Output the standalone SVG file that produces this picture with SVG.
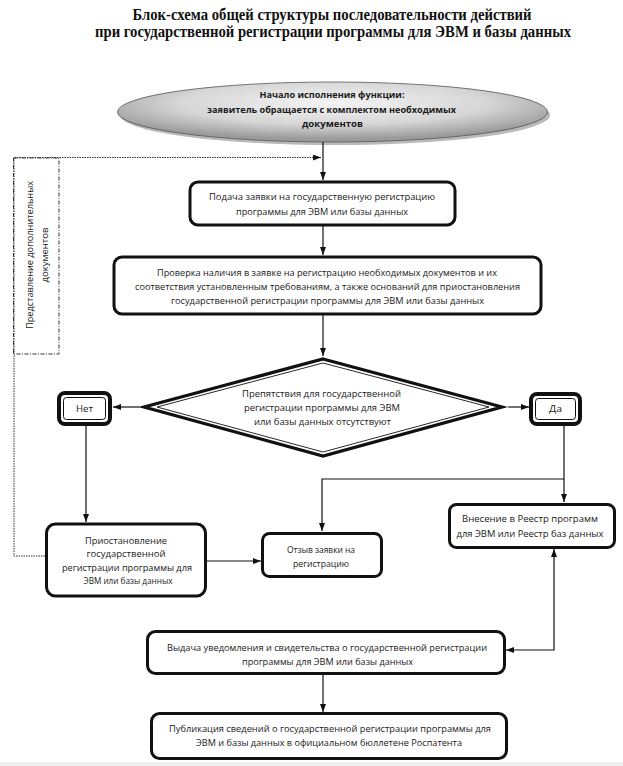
<svg xmlns="http://www.w3.org/2000/svg" width="623" height="766" viewBox="0 0 623 766">
<style>
.t{font-family:"Open Sans","Noto Sans","DejaVu Sans",sans-serif;font-size:9.5px;fill:#1a1a1a;text-anchor:middle}
.b{font-weight:bold}
.title{font-family:"Liberation Serif","Times New Roman",serif;font-size:16px;font-weight:bold;fill:#111;text-anchor:middle}
.box{fill:#fff;stroke:#111;stroke-width:3}
.thin{fill:none;stroke:#111;stroke-width:1}
.ln{fill:none;stroke:#111;stroke-width:1.2}
.dot{fill:none;stroke:#333;stroke-width:1;stroke-dasharray:1.5 1}
.dash{fill:none;stroke:#333;stroke-width:1;stroke-dasharray:4 1.5 1 1.5}
</style>
<defs>
<marker id="ar" viewBox="0 0 8 6" refX="8" refY="3" markerWidth="8" markerHeight="6" markerUnits="userSpaceOnUse" orient="auto-start-reverse">
<path d="M0,0 L8,3 L0,6 z" fill="#111"/>
</marker>
<radialGradient id="eg" cx="0.5" cy="0.35" r="0.6">
<stop offset="0" stop-color="#f4f4f4"/>
<stop offset="0.6" stop-color="#d6d6d6"/>
<stop offset="1" stop-color="#9a9a9a"/>
</radialGradient>
</defs>
<rect x="0" y="0" width="623" height="766" fill="#fff"/>
<rect x="0" y="762" width="623" height="4" fill="#eeeeee"/>

<g id="title">
<text class="title" x="332" y="20" textLength="399" lengthAdjust="spacingAndGlyphs">Блок-схема общей структуры последовательности действий</text>
<text class="title" x="333" y="37" textLength="476" lengthAdjust="spacingAndGlyphs">при государственной регистрации программы для ЭВМ и базы данных</text>
</g>

<g id="start">
<ellipse cx="335" cy="115" rx="215" ry="30" fill="#8a8a8a" opacity="0.6"/>
<ellipse cx="332.5" cy="112" rx="215" ry="30" fill="url(#eg)" stroke="#555" stroke-width="0.8"/>
<text class="t b" x="332" y="97.5" textLength="145" lengthAdjust="spacingAndGlyphs">Начало исполнения функции:</text>
<text class="t b" x="331.5" y="112.5" textLength="249" lengthAdjust="spacingAndGlyphs">заявитель обращается с комплектом необходимых</text>
<text class="t b" x="332.5" y="126.5" textLength="61" lengthAdjust="spacingAndGlyphs">документов</text>
</g>

<g id="extra-docs">
<rect class="dash" x="13.5" y="158" width="45.5" height="196"/>
<g transform="translate(36,255) rotate(-90)">
<text class="t" x="0" y="-3" style="font-size:9px" textLength="148" lengthAdjust="spacingAndGlyphs">Представление дополнительных</text>
<text class="t" x="0" y="12" style="font-size:9px" textLength="55" lengthAdjust="spacingAndGlyphs">документов</text>
</g>
</g>

<g id="submit">
<rect class="box" x="190" y="182" width="265" height="43" rx="8"/>
<text class="t" x="322" y="200" textLength="226" lengthAdjust="spacingAndGlyphs">Подача заявки на государственную регистрацию</text>
<text class="t" x="322" y="214.5" textLength="172" lengthAdjust="spacingAndGlyphs">программы для ЭВМ или базы данных</text>
</g>

<g id="check">
<rect class="box" x="114" y="257" width="427" height="57" rx="8"/>
<text class="t" x="327" y="275.5" textLength="340" lengthAdjust="spacingAndGlyphs">Проверка наличия в заявке на регистрацию необходимых документов и их</text>
<text class="t" x="327.5" y="290" textLength="385" lengthAdjust="spacingAndGlyphs">соответствия установленным требованиям, а также оснований для приостановления</text>
<text class="t" x="327.5" y="304" textLength="313" lengthAdjust="spacingAndGlyphs">государственной регистрации программы для ЭВМ или базы данных</text>
</g>

<g id="decision">
<polygon points="323,359 502,407 323,456 144,407" fill="#fff" stroke="#111" stroke-width="3.2"/>
<polygon points="323,363 489,407 323,452 157,407" fill="none" stroke="#111" stroke-width="0.9"/>
<text class="t" x="321.5" y="396.5" textLength="159" lengthAdjust="spacingAndGlyphs">Препятствия для государственной</text>
<text class="t" x="322" y="410.5" textLength="156" lengthAdjust="spacingAndGlyphs">регистрации программы для ЭВМ</text>
<text class="t" x="322.5" y="424.5" textLength="137" lengthAdjust="spacingAndGlyphs">или базы данных отсутствуют</text>
</g>

<g id="no">
<rect x="59" y="393" width="51" height="31" rx="6" fill="#fff" stroke="#111" stroke-width="4"/>
<rect class="thin" x="63.5" y="397.5" width="42" height="22" rx="3"/>
<text class="t" x="84.5" y="411.5" textLength="17" lengthAdjust="spacingAndGlyphs">Нет</text>
</g>

<g id="yes">
<rect x="531" y="394" width="49" height="30" rx="6" fill="#fff" stroke="#111" stroke-width="4"/>
<rect class="thin" x="535.5" y="398.5" width="40" height="21" rx="3"/>
<text class="t" x="555.5" y="411.5" textLength="13" lengthAdjust="spacingAndGlyphs">Да</text>
</g>

<g id="suspend">
<rect class="box" x="46.5" y="524" width="159" height="72" rx="9"/>
<text class="t" x="126" y="544" textLength="82" lengthAdjust="spacingAndGlyphs">Приостановление</text>
<text class="t" x="126" y="557" textLength="79" lengthAdjust="spacingAndGlyphs">государственной</text>
<text class="t" x="127" y="570.5" textLength="130" lengthAdjust="spacingAndGlyphs">регистрации программы для</text>
<text class="t" x="128" y="584" textLength="89" lengthAdjust="spacingAndGlyphs">ЭВМ или базы данных</text>
</g>

<g id="withdraw">
<rect class="box" x="262.5" y="533.5" width="119" height="43" rx="7"/>
<text class="t" x="321" y="552.5" textLength="68" lengthAdjust="spacingAndGlyphs">Отзыв заявки на</text>
<text class="t" x="321" y="566.5" textLength="56" lengthAdjust="spacingAndGlyphs">регистрацию</text>
</g>

<g id="register">
<rect class="box" x="449.5" y="504.5" width="165" height="43" rx="7"/>
<text class="t" x="530" y="521.5" textLength="136" lengthAdjust="spacingAndGlyphs">Внесение в Реестр программ</text>
<text class="t" x="530" y="536.5" textLength="147" lengthAdjust="spacingAndGlyphs">для ЭВМ или Реестр баз данных</text>
</g>

<g id="issue">
<rect class="box" x="147.5" y="631.5" width="357" height="42" rx="8"/>
<text class="t" x="327" y="650.5" textLength="320" lengthAdjust="spacingAndGlyphs">Выдача уведомления и свидетельства о государственной регистрации</text>
<text class="t" x="327.5" y="665" textLength="171" lengthAdjust="spacingAndGlyphs">программы для ЭВМ или базы данных</text>
</g>

<g id="publish">
<rect class="box" x="151.5" y="713.5" width="355" height="45" rx="8"/>
<text class="t" x="330" y="731.5" textLength="322" lengthAdjust="spacingAndGlyphs">Публикация сведений о государственной регистрации программы для</text>
<text class="t" x="329" y="745.5" textLength="266" lengthAdjust="spacingAndGlyphs">ЭВМ и базы данных в официальном бюллетене Роспатента</text>
</g>

<g id="connectors">
<line class="ln" x1="323" y1="142" x2="323" y2="180" marker-end="url(#ar)"/>
<polyline class="dot" points="45,556 14,556 14,157.5 321,157.5" marker-end="url(#ar)"/>
<line class="ln" x1="323" y1="226" x2="323" y2="255" marker-end="url(#ar)"/>
<line class="ln" x1="323" y1="315" x2="323" y2="356" marker-end="url(#ar)"/>
<line class="ln" x1="139" y1="407" x2="113" y2="407" marker-end="url(#ar)"/>
<line class="ln" x1="508" y1="407" x2="529" y2="407" marker-end="url(#ar)"/>
<line class="ln" x1="86" y1="426" x2="86" y2="522" marker-end="url(#ar)"/>
<line class="ln" x1="564" y1="426" x2="564" y2="502" marker-end="url(#ar)"/>
<polyline class="ln" points="564,479 322,479 322,531" marker-end="url(#ar)"/>
<line class="ln" x1="207" y1="561" x2="261" y2="561" marker-end="url(#ar)"/>
<polyline class="ln" points="506,650 554,650 554,549" marker-start="url(#ar)" marker-end="url(#ar)"/>
<line class="ln" x1="323" y1="675" x2="323" y2="712" marker-end="url(#ar)"/>
</g>
</svg>
